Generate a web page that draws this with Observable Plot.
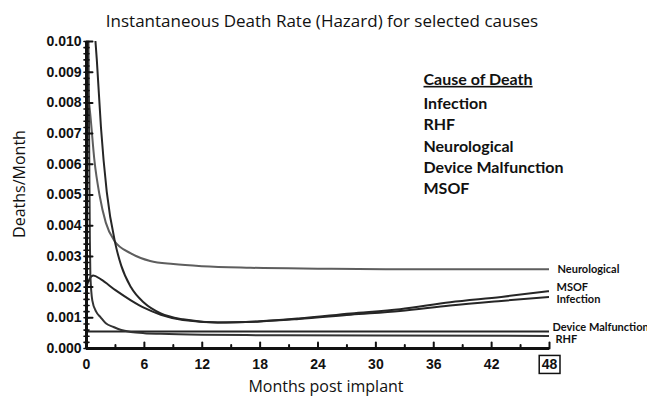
<!DOCTYPE html>
<html>
<head>
<meta charset="utf-8">
<script src="https://cdn.jsdelivr.net/npm/d3@7"></script>
<script src="https://cdn.jsdelivr.net/npm/@observablehq/plot@0.6"></script>
<style>
  body { margin: 0; background: #fff; }
  #chart svg { overflow: visible; }
</style>
</head>
<body>
<div id="chart"></div>
<script>
// ---- data ----
const titleText = "Instantaneous Death Rate (Hazard) for selected causes";
const xLabelText = "Months post implant";
const yLabelText = "Deaths/Month";
const legendTitle = "Cause of Death";
const legendItems = ["Infection", "RHF", "Neurological", "Device Malfunction", "MSOF"];

const xTicks = [0, 6, 12, 18, 24, 30, 36, 42, 48];
const xMinorTicks = [3, 9, 15, 21, 27, 33, 39, 45];
const yTicks = [0, 0.001, 0.002, 0.003, 0.004, 0.005, 0.006, 0.007, 0.008, 0.009, 0.010];
const yMinorTicks = d3.range(0, 51).map(i => i * 0.0002);

const infectionMonths = [0.93, 1.07, 1.5, 2.1, 3.0, 3.6, 4.6, 6, 7.7, 10, 13.6, 18, 22, 27.4, 32.5, 37.7, 43, 48];
const infectionRate   = [0.0100, 0.0094, 0.0072, 0.0051, 0.0034, 0.0027, 0.0020, 0.00148, 0.00114, 0.00095, 0.00085, 0.00088, 0.00096, 0.00110, 0.00122, 0.00140, 0.00155, 0.00168];

const msofMonths = [0, 0.3, 0.7, 1.5, 3, 4.6, 6, 7.7, 10, 13.6, 18, 22, 27.4, 32.5, 37.7, 43, 48];
const msofRate   = [0.0020, 0.00226, 0.00238, 0.00225, 0.0019, 0.00157, 0.00132, 0.00110, 0.00093, 0.00085, 0.00089, 0.00098, 0.00114, 0.00128, 0.00151, 0.00168, 0.00187];

const neuroMonths = [0, 0.4, 0.83, 1.35, 2.0, 2.9, 4.6, 6.6, 9, 12, 17, 24, 32, 48];
const neuroRate   = [0.0088, 0.0076, 0.0061, 0.0050, 0.0041, 0.0035, 0.0031, 0.00285, 0.00275, 0.00268, 0.00263, 0.00260, 0.00258, 0.00258];

const deviceMonths = [0, 48];
const deviceRate   = [0.00055, 0.00055];

const rhfMonths = [0.2, 0.28, 0.35, 0.4, 0.6, 1.0, 1.45, 2.0, 2.8, 3.6, 4.6, 6, 7.7, 12, 20, 30, 48];
const rhfRate   = [0.0100, 0.0065, 0.0035, 0.0024, 0.00157, 0.0012, 0.00102, 0.00082, 0.0007, 0.0006, 0.00054, 0.0005, 0.00048, 0.00045, 0.00043, 0.00042, 0.00041];

// ---- build tables ----
const zip = (ms, vs) => ms.map((m, i) => ({month: m, rate: vs[i]}));
const series = [
  {name: "Neurological", rows: zip(neuroMonths, neuroRate), color: "#5e5e5e", dx: 8, dy: 0},
  {name: "MSOF", rows: zip(msofMonths, msofRate), color: "#262626", dx: 7, dy: -4},
  {name: "Infection", rows: zip(infectionMonths, infectionRate), color: "#262626", dx: 7, dy: 3},
  {name: "Device Malfunction", rows: zip(deviceMonths, deviceRate), color: "#262626", dx: 3, dy: -4},
  {name: "RHF", rows: zip(rhfMonths, rhfRate), color: "#333333", dx: 6, dy: 4}
];

const tickShape = {draw(context, l) { context.moveTo(0, 0); context.lineTo(0, -l); }};
const sans = "'Open Sans', 'Noto Sans', sans-serif";
const bold = "'Liberation Sans', Arial, sans-serif";

const marks = [];
series.forEach(s => {
  marks.push(Plot.line(s.rows, {x: "month", y: "rate", stroke: s.color, strokeWidth: 2, curve: "monotone-x", clip: true}));
});
series.forEach(s => {
  const last = s.rows[s.rows.length - 1];
  marks.push(Plot.text([last], {x: "month", y: "rate", text: () => s.name, textAnchor: "start", dx: s.dx, dy: s.dy,
    fontSize: 11, fontWeight: "bold", fontFamily: "Lato, " + sans, fill: "#111"}));
});

// axes
marks.push(
  Plot.ruleX([0], {stroke: "#111", strokeWidth: 3}),
  Plot.ruleY([0], {stroke: "#111", strokeWidth: 3}),
  Plot.vector(yTicks, {x: () => 0, y: d => d, length: 6, rotate: 90, anchor: "start", shape: tickShape, stroke: "#111", strokeWidth: 2}),
  Plot.vector(yMinorTicks, {x: () => 0, y: d => d, length: 5, rotate: 90, anchor: "middle", shape: tickShape, stroke: "#111", strokeWidth: 1.6}),
  Plot.vector(xTicks, {x: d => d, y: () => 0, length: 6, rotate: 0, anchor: "start", shape: tickShape, stroke: "#111", strokeWidth: 2}),
  Plot.vector(xMinorTicks, {x: d => d, y: () => 0, length: 3.5, rotate: 0, anchor: "start", shape: tickShape, stroke: "#111", strokeWidth: 2}),
  Plot.axisY({ticks: yTicks, tickSize: 0, tickPadding: 5, tickFormat: d3.format(".3f"), label: null,
    fontSize: 14, fontWeight: "bold", fontFamily: bold, fill: "#111"}),
  Plot.axisX({ticks: xTicks, tickSize: 0, tickPadding: 11, tickFormat: d => String(d), label: null,
    fontSize: 14, fontWeight: "bold", fontFamily: bold, fill: "#111"})
);

// titles and labels
marks.push(
  Plot.text([titleText], {text: d => d, frameAnchor: "top", textAnchor: "middle", dx: 4, dy: -27, fontSize: 17, fontFamily: sans, fill: "#111"}),
  Plot.text([xLabelText], {text: d => d, frameAnchor: "bottom", textAnchor: "middle", dx: 8, dy: 43, fontSize: 16, fontFamily: sans, fill: "#111"}),
  Plot.text([yLabelText], {text: d => d, frameAnchor: "left", textAnchor: "middle", dx: -67, dy: -11, rotate: -90, fontSize: 16, fontFamily: sans, fill: "#111"}),
  Plot.text([legendTitle], {text: d => d, frameAnchor: "top-left", textAnchor: "start", dx: 337, dy: 32, fontSize: 16, fontWeight: "bold", fontFamily: "Lato, " + sans, fill: "#111"}),
  Plot.text([legendItems.join("\n")], {text: d => d, frameAnchor: "top-left", textAnchor: "start", lineAnchor: "top", lineHeight: 1.34, dx: 337, dy: 52, fontSize: 16, fontWeight: "bold", fontFamily: "Lato, " + sans, fill: "#111"})
);

const chart = Plot.plot({
  width: 647,
  height: 400,
  marginLeft: 86,
  marginRight: 98,
  marginTop: 41,
  marginBottom: 52,
  style: {background: "#fff", color: "#111"},
  x: {domain: [0, 48]},
  y: {domain: [0, 0.010]},
  marks
});
document.getElementById("chart").appendChild(chart);

// underline legend header
chart.querySelectorAll("text").forEach(t => {
  if (t.textContent === legendTitle) t.setAttribute("text-decoration", "underline");
});
// box around the last x tick label
chart.querySelectorAll("[aria-label='x-axis tick label'] text").forEach(t => {
  if (t.textContent === "48") {
    const b = t.getBBox();
    const ctm = t.getCTM();
    const pt = chart.createSVGPoint();
    pt.x = b.x; pt.y = b.y;
    const p = pt.matrixTransform(ctm);
    const r = document.createElementNS("http://www.w3.org/2000/svg", "rect");
    r.setAttribute("x", p.x - 2.5);
    r.setAttribute("y", p.y - 1);
    r.setAttribute("width", b.width + 5);
    r.setAttribute("height", b.height + 2);
    r.setAttribute("fill", "none");
    r.setAttribute("stroke", "#111");
    r.setAttribute("stroke-width", 1.5);
    chart.appendChild(r);
  }
});
</script>
</body>
</html>
